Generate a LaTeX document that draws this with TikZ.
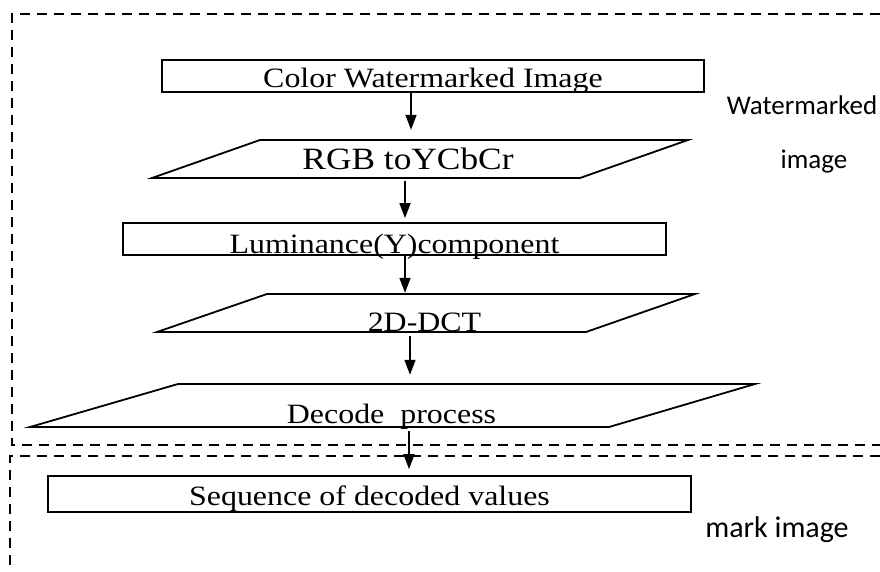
\documentclass[tikz,border=0pt]{standalone}
\usepackage{fontspec}
\usetikzlibrary{arrows.meta,calc}
\newfontfamily\boxfont{Liberation Serif}[FakeStretch=1.14]
\newfontfamily\sidefont{Carlito}
\begin{document}
\begin{tikzpicture}[x=1pt,y=-1pt,
  txt/.style={inner sep=0pt,text depth=0pt,font=\boxfont\fontsize{28}{30}\selectfont},
  rbox/.style={txt,draw,line width=1.8pt},
  shp/.style={line width=1.8pt,line join=miter},
  arr/.style={line width=1.6pt,-{Triangle[width=11pt,length=15pt]}},
  frame/.style={line width=2pt,dash pattern=on 10pt off 7pt},
  side/.style={inner sep=0pt,anchor=base,font=\sidefont\fontsize{27}{29}\selectfont}]
\useasboundingbox (0,0) rectangle (880,572);
\fill[white] (0,0) rectangle (880,572);
% frames
\draw[frame] (880,14) -- (12,14) -- (12,445) -- (880,445);
\draw[frame] (880,456) -- (10,456) -- (10,572);
% columns for arrows
\coordinate (c1) at (411,0);
\coordinate (c2) at (405,0);
\coordinate (c3) at (410,0);
\coordinate (c4) at (409,0);
% nodes
\node[rbox,minimum width=542pt,minimum height=32pt,text height=24pt] (box1) at (433,76) {Color Watermarked Image};
\node[txt,minimum height=38pt,text height=22pt,font=\boxfont\fontsize{31}{33}\selectfont] (rgb) at (408,159) {RGB toYCbCr};
\draw[shp] ($(rgb.center)+(-148,-19)$) -- ($(rgb.center)+(280,-19)$) -- ($(rgb.center)+(172,19)$) -- ($(rgb.center)+(-256,19)$) -- cycle;
\node[rbox,minimum width=543pt,minimum height=32pt,text height=28pt] (lum) at (394.5,239) {Luminance(Y)component};
\node[txt,minimum height=38pt,text height=36pt] (dct) at (424.5,313) {2D-DCT};
\draw[shp] ($(dct.center)+(-157.5,-19)$) -- ($(dct.center)+(270.5,-19)$) -- ($(dct.center)+(161.5,19)$) -- ($(dct.center)+(-267.5,19)$) -- cycle;
\node[txt,minimum height=43pt,text height=35pt] (dec) at (391.5,405.5) {Decode\ \ process};
\draw[shp] ($(dec.center)+(-213.5,-21.5)$) -- ($(dec.center)+(363.5,-21.5)$) -- ($(dec.center)+(217.5,21.5)$) -- ($(dec.center)+(-361.5,21.5)$) -- cycle;
\node[rbox,minimum width=643pt,minimum height=36pt,text height=22pt] (seq) at (369.5,494) {Sequence of decoded values};
% side labels
\node[side] (wm) at (802,115) {Watermarked};
\node[side] (wmi) at (814,168) {image};
\node[side,font=\sidefont\fontsize{30}{32}\selectfont] (mk) at (777,537) {mark image};
% arrows
\draw[arr] (box1.south -| c1) -- ($(rgb.north -| c1)+(0,-10)$);
\draw[arr] ($(rgb.south -| c2)+(0,3)$) -- ($(lum.north -| c2)+(0,-4)$);
\draw[arr] (lum.south -| c2) -- ($(dct.north -| c2)+(0,-1)$);
\draw[arr] ($(dct.south -| c3)+(0,4)$) -- ($(dec.north -| c3)+(0,-9)$);
\draw[arr] ($(dec.south -| c4)+(0,4)$) -- ($(seq.north -| c4)+(0,-6)$);
\end{tikzpicture}
\end{document}
